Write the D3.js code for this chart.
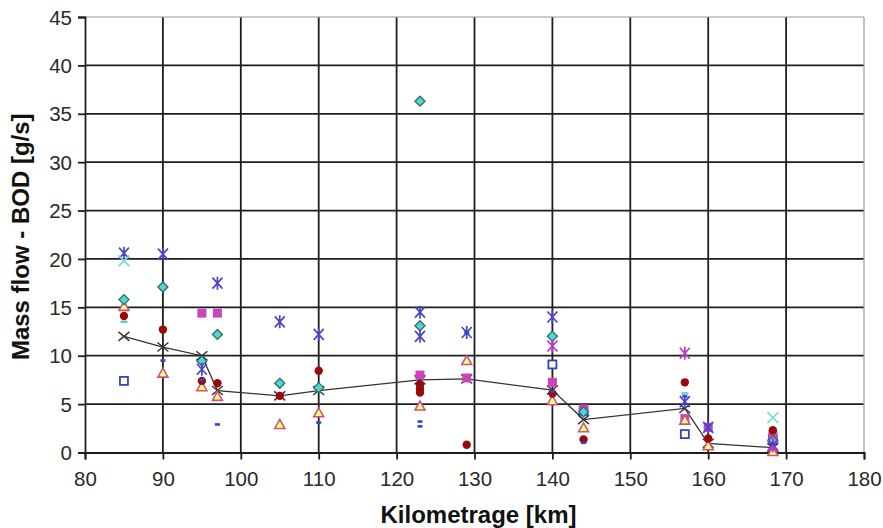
<!DOCTYPE html>
<html><head><meta charset="utf-8">
<script src="https://cdn.jsdelivr.net/npm/d3@7"></script>
<style>body{margin:0;background:#fff}svg{display:block}</style>
</head><body>
<script>
// ---- data (km, BOD mass flow g/s) ----
const xTicks = [80,90,100,110,120,130,140,150,160,170,180];
const yTicks = [0,5,10,15,20,25,30,35,40,45];
const blueAsterisk = [[85,20.6],[90,20.5],[95,8.6],[97,17.5],[105,13.5],[110,12.2],[123,14.5],[123,12.0],[129,12.4],[140,14.0],[157,5.25],[160,2.6],[168.3,0.8]];
const magentaAsterisk = [[140,11.0],[157,10.25],[168.3,0.7]];
const cyanCross = [[85,19.8],[168.3,3.6]];
const tealDiamond = [[85,15.8],[90,17.1],[95,9.45],[97,12.2],[105,7.15],[110,6.7],[123,36.3],[123,13.1],[140,12.0],[144,4.2],[168.3,1.2]];
const triangle = [[85,15.1],[90,8.2],[95,6.8],[97,5.8],[105,2.9],[110,4.1],[123,4.8],[129,9.5],[140,5.35],[144,2.55],[157,3.35],[160,0.7],[168.3,0.1]];
const redCircle = [[85,14.1],[90,12.7],[95,7.4],[97,7.15],[105,5.85],[110,8.45],[123,7.0],[123,6.6],[123,6.2],[129,0.8],[140,6.1],[144,1.35],[157,7.25],[160,1.45],[168.3,2.3]];
const magentaSquare = [[95,14.4],[97,14.4],[123,8.0],[129,7.7],[140,7.25],[144,4.5],[157,3.5],[160,2.6],[168.3,1.8]];
const blueSquare = [[85,7.4],[140,9.1],[144,4.3],[157,1.9],[168.3,1.4]];
const blueDash = [[90,9.5],[95,7.5],[97,2.9],[110,3.1],[123,3.2],[123,2.7],[129,12.4],[140,6.3],[144,1.0],[157,5.8],[168.3,0.9]];
const cyanDash = [[85,13.5],[157,6.1]];
const meanLine = [[85,12.0],[90,10.9],[95,10.0],[97,6.4],[105,5.85],[110,6.4],[123,7.5],[129,7.6],[140,6.45],[144,3.4],[157,4.55],[160,0.95],[168.3,0.5]];

const W = 883, H = 528;
const m = {l:85, r:W-864, t:17, b:H-452.5};
const svg = d3.select("body").append("svg").attr("width",W).attr("height",H);
const x = d3.scaleLinear().domain([80,180]).range([m.l, W-m.r]);
const y = d3.scaleLinear().domain([0,45]).range([H-m.b, m.t]);
const FONT = "Liberation Sans, Arial, sans-serif";

// grid
const g = svg.append("g");
g.selectAll(".vg").data(xTicks.slice(1,-1)).join("line")
  .attr("x1",d=>x(d)).attr("x2",d=>x(d)).attr("y1",y(45)).attr("y2",y(0))
  .attr("stroke","#1e1e1e").attr("stroke-width",1.8);
g.selectAll(".hg").data(yTicks.slice(1,-1)).join("line")
  .attr("x1",x(80)).attr("x2",x(180)).attr("y1",d=>y(d)).attr("y2",d=>y(d))
  .attr("stroke","#1e1e1e").attr("stroke-width",1.8);
// top & right border
g.append("line").attr("x1",x(80)).attr("x2",x(180)).attr("y1",y(45)).attr("y2",y(45)).attr("stroke","#999").attr("stroke-width",1.2);
g.append("line").attr("x1",x(180)).attr("x2",x(180)).attr("y1",y(45)).attr("y2",y(0)).attr("stroke","#999").attr("stroke-width",1.2);

// axes
const xAxis = svg.append("g").attr("transform",`translate(0,${y(0)})`)
  .call(d3.axisBottom(x).tickValues(xTicks).tickSize(7).tickPadding(7).tickFormat(d3.format("d")));
const yAxis = svg.append("g").attr("transform",`translate(${x(80)},0)`)
  .call(d3.axisLeft(y).tickValues(yTicks).tickSize(7).tickPadding(6).tickFormat(d3.format("d")));
[xAxis,yAxis].forEach(a=>{
  a.select(".domain").attr("stroke","#1e1e1e").attr("stroke-width",1.8);
  a.selectAll(".tick line").attr("stroke","#1e1e1e").attr("stroke-width",1.8);
  a.selectAll("text").attr("font-family",FONT).attr("font-size",20.5).attr("fill","#2a2a2a");
});
xAxis.selectAll("text").attr("dy","0.93em");
yAxis.selectAll("text").attr("dy","0.35em");

svg.append("text").attr("x",(x(80)+x(180))/2 + 4).attr("y",523).attr("text-anchor","middle")
  .attr("font-family",FONT).attr("font-weight","bold").attr("font-size",24).attr("fill","#111")
  .text("Kilometrage [km]");
svg.append("text").attr("transform",`translate(29,${(y(0)+y(45))/2 + 2}) rotate(-90)`).attr("text-anchor","middle")
  .attr("font-family",FONT).attr("font-weight","bold").attr("font-size",24).attr("fill","#111")
  .text("Mass flow - BOD [g/s]");

// mean line
svg.append("path").datum(meanLine)
  .attr("d",d3.line().x(d=>x(d[0])).y(d=>y(d[1])))
  .attr("fill","none").attr("stroke","#333").attr("stroke-width",1.3);

const pts = svg.append("g");
function draw(data, fn){ pts.append("g").selectAll("g").data(data).join("g")
  .attr("transform",d=>`translate(${x(d[0])},${y(d[1])})`).each(function(){fn(d3.select(this));}); }

// mean x markers
draw(meanLine, s=>{ s.append("path").attr("d","M-5.5,-4.5L5.5,4.5M-5.5,4.5L5.5,-4.5").attr("stroke","#333").attr("stroke-width",1.4); });
// blue square (open)
draw(blueSquare, s=>s.append("rect").attr("x",-4).attr("y",-4).attr("width",8).attr("height",8)
  .attr("fill","#ffffcc").attr("stroke","#3344cc").attr("stroke-width",1.8));
// magenta square
draw(magentaSquare, s=>s.append("rect").attr("x",-4.5).attr("y",-4.5).attr("width",9).attr("height",9).attr("fill","#cc44bb"));
// triangle
draw(triangle, s=>s.append("path").attr("d","M0,-5L5,4L-5,4Z")
  .attr("fill","#ffff88").attr("stroke","#cc5577").attr("stroke-width",1.6));
// red circle
draw(redCircle, s=>s.append("circle").attr("r",4.2).attr("fill","#990a0a"));
// teal diamond
draw(tealDiamond, s=>s.append("path").attr("d","M0,-5L5,0L0,5L-5,0Z")
  .attr("fill","#55d5d0").attr("stroke","#2a6b6b").attr("stroke-width",1.3));
// asterisks
const ast = "M-5,-5.5L5,5.5M-5,5.5L5,-5.5M0,-6.5L0,6.5";
draw(blueAsterisk, s=>s.append("path").attr("d",ast).attr("stroke","#4a44c8").attr("stroke-width",1.7));
draw(magentaAsterisk, s=>s.append("path").attr("d",ast).attr("stroke","#bb33cc").attr("stroke-width",1.7));
draw(cyanCross, s=>s.append("path").attr("d","M-5.5,-5.5L5.5,5.5M-5.5,5.5L5.5,-5.5").attr("stroke","#77dddd").attr("stroke-width",1.7));
// dashes
draw(blueDash, s=>s.append("rect").attr("x",-2.5).attr("y",-1.3).attr("width",5).attr("height",2.6).attr("fill","#3344cc"));
draw(cyanDash, s=>s.append("rect").attr("x",-3.5).attr("y",-1.3).attr("width",7).attr("height",2.6).attr("fill","#66cccc"));
</script>
</body></html>
